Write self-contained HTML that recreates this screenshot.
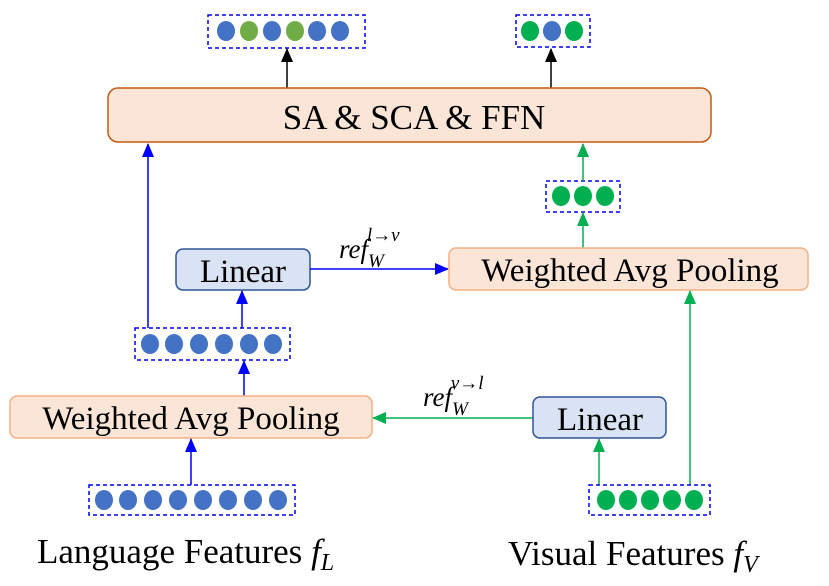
<!DOCTYPE html>
<html><head><meta charset="utf-8"><style>
html,body{margin:0;padding:0;background:#fff;}
svg{display:block;}
text{font-family:"Liberation Serif",serif;}
</style></head><body>
<svg width="829" height="586" viewBox="0 0 829 586" xmlns="http://www.w3.org/2000/svg">
<defs>
<marker id="ab" markerWidth="14" markerHeight="12" refX="13" refY="6" orient="auto" markerUnits="userSpaceOnUse"><path d="M0,0 L14,6 L0,12 z" fill="#0000ff"/></marker>
<marker id="ag" markerWidth="14" markerHeight="12" refX="13" refY="6" orient="auto" markerUnits="userSpaceOnUse"><path d="M0,0 L14,6 L0,12 z" fill="#00b050"/></marker>
<marker id="ak" markerWidth="14" markerHeight="12" refX="13" refY="6" orient="auto" markerUnits="userSpaceOnUse"><path d="M0,0 L14,6 L0,12 z" fill="#000"/></marker>
</defs>

<rect x="208" y="15" width="157" height="33" fill="none" stroke="#0000ff" stroke-width="1.5" stroke-dasharray="4,3"/>
<g fill="#4472c4"><ellipse cx="226" cy="31" rx="9" ry="10"/><ellipse cx="272" cy="31" rx="9" ry="10"/><ellipse cx="317" cy="31" rx="9" ry="10"/><ellipse cx="340" cy="31" rx="9" ry="10"/></g>
<g fill="#70ad47"><ellipse cx="249" cy="31" rx="9" ry="10"/><ellipse cx="295" cy="31" rx="9" ry="10"/></g>
<rect x="516" y="15" width="74" height="32" fill="none" stroke="#0000ff" stroke-width="1.5" stroke-dasharray="4,3"/>
<ellipse cx="530" cy="31" rx="9" ry="10" fill="#00b050"/><ellipse cx="552" cy="31" rx="9" ry="10" fill="#4472c4"/><ellipse cx="574" cy="31" rx="9" ry="10" fill="#00b050"/>

<line x1="287" y1="88" x2="287" y2="49" stroke="#000" stroke-width="1.5" marker-end="url(#ak)"/>
<line x1="551" y1="88" x2="551" y2="49" stroke="#000" stroke-width="1.5" marker-end="url(#ak)"/>

<rect x="108" y="88" width="603" height="54" rx="10" fill="#fbe5d6" stroke="#c55a11" stroke-width="1.5"/>
<text x="414" y="129" font-size="35" text-anchor="middle">SA &amp; SCA &amp; FFN</text>

<line x1="148" y1="328" x2="148" y2="144" stroke="#0000ff" stroke-width="1.5" marker-end="url(#ab)"/>

<rect x="546" y="181" width="74" height="31" fill="none" stroke="#0000ff" stroke-width="1.5" stroke-dasharray="4,3"/>
<g fill="#00b050"><ellipse cx="561" cy="196" rx="9" ry="10"/><ellipse cx="583" cy="196" rx="9" ry="10"/><ellipse cx="605" cy="196" rx="9" ry="10"/></g>
<line x1="583" y1="181" x2="583" y2="144" stroke="#00b050" stroke-width="1.5" marker-end="url(#ag)"/>
<line x1="583" y1="248" x2="583" y2="213" stroke="#00b050" stroke-width="1.5" marker-end="url(#ag)"/>

<rect x="176" y="249" width="134" height="41" rx="7" fill="#dae3f3" stroke="#2f5597" stroke-width="1.5"/>
<text x="243" y="282" font-size="33" text-anchor="middle">Linear</text>
<line x1="310" y1="269" x2="448" y2="269" stroke="#0000ff" stroke-width="1.5" marker-end="url(#ab)"/>
<text x="339" y="258" font-size="27" font-style="italic" font-family="DejaVu Serif, serif">ref<tspan font-size="19" dy="9">W</tspan><tspan font-size="19" dy="-26" dx="-17">l→v</tspan></text>

<rect x="449" y="248" width="359" height="42" rx="7" fill="#fbe5d6" stroke="#f4b183" stroke-width="1.5"/>
<text x="630" y="281" font-size="33" text-anchor="middle">Weighted Avg Pooling</text>

<rect x="135" y="328" width="155" height="32" fill="none" stroke="#0000ff" stroke-width="1.5" stroke-dasharray="4,3"/>
<g fill="#4472c4"><ellipse cx="150" cy="344" rx="9" ry="10"/><ellipse cx="174" cy="344" rx="9" ry="10"/><ellipse cx="199" cy="344" rx="9" ry="10"/><ellipse cx="224" cy="344" rx="9" ry="10"/><ellipse cx="249" cy="344" rx="9" ry="10"/><ellipse cx="273" cy="344" rx="9" ry="10"/></g>
<line x1="242" y1="328" x2="242" y2="291" stroke="#0000ff" stroke-width="1.5" marker-end="url(#ab)"/>
<line x1="244" y1="396" x2="244" y2="361" stroke="#0000ff" stroke-width="1.5" marker-end="url(#ab)"/>

<rect x="10" y="396" width="362" height="42" rx="7" fill="#fbe5d6" stroke="#f4b183" stroke-width="1.5"/>
<text x="191" y="429" font-size="33" text-anchor="middle">Weighted Avg Pooling</text>
<line x1="533" y1="418" x2="373" y2="418" stroke="#00b050" stroke-width="1.5" marker-end="url(#ag)"/>
<text x="423" y="406" font-size="27" font-style="italic" font-family="DejaVu Serif, serif">ref<tspan font-size="19" dy="9">W</tspan><tspan font-size="19" dy="-26" dx="-17">v→l</tspan></text>

<rect x="533" y="397" width="133" height="41" rx="7" fill="#dae3f3" stroke="#2f5597" stroke-width="1.5"/>
<text x="600" y="430" font-size="33" text-anchor="middle">Linear</text>
<line x1="599" y1="485" x2="599" y2="439" stroke="#00b050" stroke-width="1.5" marker-end="url(#ag)"/>
<line x1="690" y1="485" x2="690" y2="291" stroke="#00b050" stroke-width="1.5" marker-end="url(#ag)"/>

<rect x="89" y="485" width="206" height="30" fill="none" stroke="#0000ff" stroke-width="1.5" stroke-dasharray="4,3"/>
<g fill="#4472c4"><ellipse cx="104" cy="500" rx="9" ry="10"/><ellipse cx="128" cy="500" rx="9" ry="10"/><ellipse cx="153" cy="500" rx="9" ry="10"/><ellipse cx="178" cy="500" rx="9" ry="10"/><ellipse cx="203" cy="500" rx="9" ry="10"/><ellipse cx="228" cy="500" rx="9" ry="10"/><ellipse cx="253" cy="500" rx="9" ry="10"/><ellipse cx="278" cy="500" rx="9" ry="10"/></g>
<line x1="191" y1="485" x2="191" y2="439" stroke="#0000ff" stroke-width="1.5" marker-end="url(#ab)"/>

<rect x="589" y="485" width="121" height="30" fill="none" stroke="#0000ff" stroke-width="1.5" stroke-dasharray="4,3"/>
<g fill="#00b050"><ellipse cx="606" cy="500" rx="9" ry="10"/><ellipse cx="628" cy="500" rx="9" ry="10"/><ellipse cx="650" cy="500" rx="9" ry="10"/><ellipse cx="672" cy="500" rx="9" ry="10"/><ellipse cx="694" cy="500" rx="9" ry="10"/></g>

<text x="37" y="563" font-size="35">Language Features <tspan font-style="italic">f</tspan><tspan font-style="italic" font-size="24" dy="7">L</tspan></text>
<text x="508" y="565" font-size="35">Visual Features <tspan font-style="italic">f</tspan><tspan font-style="italic" font-size="24" dy="7">V</tspan></text>
</svg>
</body></html>
